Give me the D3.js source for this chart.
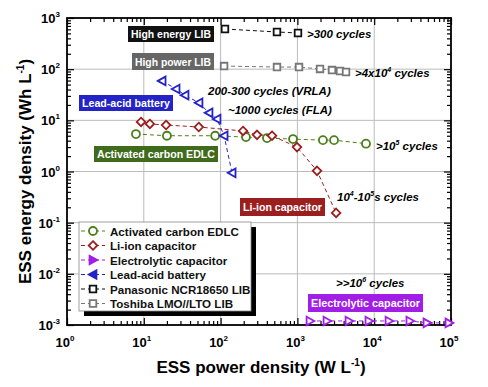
<!DOCTYPE html>
<html>
<head>
<meta charset="utf-8">
<script src="https://cdn.jsdelivr.net/npm/d3@7"></script>
<style>
  body { margin: 0; background: #fff; }
  text { font-family: "Liberation Sans", Arial, sans-serif; font-weight: bold; }
</style>
</head>
<body>
<div id="chart"></div>
<script>
// data (power W/L, energy Wh/L)
var edlcPower = [7.9, 20, 85, 214, 402, 877, 2150, 3000, 7820];
var edlcEnergy = [5.4, 5.0, 5.0, 4.7, 4.5, 4.3, 4.1, 4.1, 3.5];
var licPower = [9.2, 12, 19.5, 52, 196, 298, 467, 988, 1800, 3190];
var licEnergy = [9.3, 8.5, 8.1, 7.4, 6.2, 5.2, 5.0, 3.0, 1.03, 0.155];
var elcPower = [1460, 2430, 4700, 8550, 15600, 29200, 48700, 94200];
var elcEnergy = [0.0012, 0.0012, 0.0012, 0.0012, 0.0012, 0.0012, 0.0011, 0.0011];
var leadPower = [17.3, 26.3, 34.4, 52.3, 70.6, 89.8, 111, 141];
var leadEnergy = [59, 41, 31, 22, 14, 10.6, 5.0, 0.94];
var panaPower = [114, 542, 1018];
var panaEnergy = [610, 533, 509];
var toshPower = [111, 542, 1050, 1970, 2820, 3590, 4300];
var toshEnergy = [115, 110, 110, 101, 96, 92, 88];

var seriesNames = ["Activated carbon EDLC", "Li-ion capacitor", "Electrolytic capacitor",
  "Lead-acid battery", "Panasonic NCR18650 LIB", "Toshiba LMO//LTO LIB"];
var xTickExp = [0, 1, 2, 3, 4, 5];
var yTickExp = [-3, -2, -1, 0, 1, 2, 3];

var svgWidth = 488, svgHeight = 387;
var margin = { top: 18, right: 37, bottom: 62, left: 67 };
var width = svgWidth - margin.left - margin.right;
var height = svgHeight - margin.top - margin.bottom;

var svg = d3.select("#chart").append("svg")
  .attr("width", svgWidth)
  .attr("height", svgHeight);

var chartGroup = svg.append("g")
  .attr("transform", `translate(${margin.left}, ${margin.top})`);

var xScale = d3.scaleLog().domain([1, 1e5]).range([0, width]);
var yScale = d3.scaleLog().domain([1e-3, 1e3]).range([height, 0]);

// grid lines
chartGroup.selectAll(".vgrid").data(xTickExp.slice(1, -1)).enter().append("line")
  .attr("x1", d => xScale(Math.pow(10, d))).attr("x2", d => xScale(Math.pow(10, d)))
  .attr("y1", 0).attr("y2", height)
  .attr("stroke", "#bbb").attr("stroke-width", 1);
chartGroup.selectAll(".hgrid").data(yTickExp.slice(1, -1)).enter().append("line")
  .attr("y1", d => yScale(Math.pow(10, d))).attr("y2", d => yScale(Math.pow(10, d)))
  .attr("x1", 0).attr("x2", width)
  .attr("stroke", "#bbb").attr("stroke-width", 1);

// ticks (inward, mirrored on top and right)
function minorValues(lo, hi) {
  var out = [];
  for (var e = lo; e < hi; e++) {
    for (var m = 2; m <= 9; m++) out.push(m * Math.pow(10, e));
  }
  return out;
}
var xMajor = xTickExp.map(e => Math.pow(10, e));
var yMajor = yTickExp.map(e => Math.pow(10, e));
var xMinor = minorValues(0, 5);
var yMinor = minorValues(-3, 3);

function addAxis(axisFn, scale, values, size, transform) {
  chartGroup.append("g")
    .attr("transform", transform)
    .call(axisFn(scale).tickValues(values).tickSize(size).tickFormat(""))
    .call(g => g.select(".domain").remove())
    .call(g => g.selectAll("line").attr("stroke", "#000").attr("stroke-width", 1.2));
}
addAxis(d3.axisBottom, xScale, xMajor, -7, `translate(0, ${height})`);
addAxis(d3.axisBottom, xScale, xMinor, -4, `translate(0, ${height})`);
addAxis(d3.axisTop, xScale, xMajor, -7, "translate(0, 0)");
addAxis(d3.axisTop, xScale, xMinor, -4, "translate(0, 0)");
addAxis(d3.axisLeft, yScale, yMajor, -7, "translate(0, 0)");
addAxis(d3.axisLeft, yScale, yMinor, -4, "translate(0, 0)");
addAxis(d3.axisRight, yScale, yMajor, -7, `translate(${width}, 0)`);
addAxis(d3.axisRight, yScale, yMinor, -4, `translate(${width}, 0)`);

chartGroup.append("rect")
  .attr("width", width).attr("height", height)
  .attr("fill", "none").attr("stroke", "#000").attr("stroke-width", 1.8);

// tick labels with superscripts
function powLabel(g, e) {
  g.append("tspan").text("10");
  g.append("tspan").attr("dy", -6).attr("font-size", 8).text(e);
}
xTickExp.forEach(function(e) {
  var t = chartGroup.append("text")
    .attr("x", xScale(Math.pow(10, e)) - 2)
    .attr("y", height + 22)
    .attr("text-anchor", "middle")
    .attr("font-size", 13);
  powLabel(t, e);
});
yTickExp.forEach(function(e) {
  var t = chartGroup.append("text")
    .attr("class", "ylab")
    .attr("y", yScale(Math.pow(10, e)) + 5)
    .attr("font-size", 13);
  powLabel(t, e);
  // right-align against the axis by measuring the whole label
  var w = t.node().getComputedTextLength();
  t.attr("x", -7 - w);
});

// axis titles
var xTitle = svg.append("text")
  .attr("x", margin.left + width / 2 + 2)
  .attr("y", 373)
  .attr("text-anchor", "middle")
  .attr("font-size", 17);
xTitle.append("tspan").text("ESS power density (W L");
xTitle.append("tspan").attr("dy", -7).attr("font-size", 10).text("-1");
xTitle.append("tspan").attr("dy", 7).text(")");

var yTitle = svg.append("text")
  .attr("transform", `translate(31, ${margin.top + height / 2}) rotate(-90)`)
  .attr("text-anchor", "middle")
  .attr("font-size", 17);
yTitle.append("tspan").text("ESS energy density (Wh L");
yTitle.append("tspan").attr("dy", -7).attr("font-size", 10).text("-1");
yTitle.append("tspan").attr("dy", 7).text(")");

// markers
function markerPath(shape, s) {
  if (shape === "square") return `M${-s},${-s}H${s}V${s}H${-s}Z`;
  if (shape === "diamond") { var d = s * 1.3; return `M0,${-d}L${d},0L0,${d}L${-d},0Z`; }
  if (shape === "left") { var a = s * 1.3; return `M${-a},0L${a * 0.8},${-a}L${a * 0.8},${a}Z`; }
  if (shape === "right") { var b = s * 1.3; return `M${b},0L${-b * 0.8},${-b}L${-b * 0.8},${b}Z`; }
  return "";
}

var series = [
  { name: seriesNames[0], power: edlcPower, energy: edlcEnergy, color: "#4d7f1a", shape: "circle" },
  { name: seriesNames[1], power: licPower, energy: licEnergy, color: "#9b1f1f", shape: "diamond" },
  { name: seriesNames[2], power: elcPower, energy: elcEnergy, color: "#a21ee6", shape: "right" },
  { name: seriesNames[3], power: leadPower, energy: leadEnergy, color: "#2323c8", shape: "left" },
  { name: seriesNames[4], power: panaPower, energy: panaEnergy, color: "#111", shape: "square" },
  { name: seriesNames[5], power: toshPower, energy: toshEnergy, color: "#777", shape: "square" }
];

function drawMarker(g, shape, color, x, y, fill) {
  if (shape === "circle") {
    g.append("circle").attr("cx", x).attr("cy", y).attr("r", 4)
      .attr("fill", fill || "#fff").attr("stroke", color).attr("stroke-width", 1.8);
  } else {
    g.append("path").attr("d", markerPath(shape, 3.3))
      .attr("transform", `translate(${x},${y})`)
      .attr("fill", fill || "#fff").attr("stroke", color).attr("stroke-width", 1.8);
  }
}

var line = d3.line().x(d => xScale(d[0])).y(d => yScale(d[1]));

series.forEach(function(s) {
  var pts = s.power.map((p, i) => [p, s.energy[i]]);
  var g = chartGroup.append("g");
  g.append("path").attr("d", line(pts))
    .attr("fill", "none").attr("stroke", s.color)
    .attr("stroke-width", 1).attr("stroke-dasharray", "4,3");
  pts.forEach(p => drawMarker(g, s.shape, s.color, xScale(p[0]), yScale(p[1])));
});

// coloured name tags
var tags = [
  { text: "High energy LIB", x: 128, y: 26, w: 86, h: 16, bg: "#111" },
  { text: "High power LIB", x: 132, y: 53, w: 82, h: 17, bg: "#666" },
  { text: "Lead-acid battery", x: 79, y: 95, w: 94, h: 16, bg: "#2323c8" },
  { text: "Activated carbon EDLC", x: 94, y: 146, w: 124, h: 16, bg: "#3f6b1c" },
  { text: "Li-ion capacitor", x: 240, y: 198, w: 85, h: 18, bg: "#9b1f1f" },
  { text: "Electrolytic capacitor", x: 308, y: 294, w: 115, h: 18, bg: "#a21ee6" }
];
tags.forEach(function(t) {
  svg.append("rect").attr("x", t.x).attr("y", t.y).attr("width", t.w).attr("height", t.h)
    .attr("fill", t.bg);
  svg.append("text").attr("x", t.x + t.w / 2).attr("y", t.y + t.h / 2 + 4)
    .attr("text-anchor", "middle").attr("fill", "#fff").attr("font-size", 11.5)
    .attr("textLength", t.w - 6).attr("lengthAdjust", "spacingAndGlyphs")
    .text(t.text);
});

// cycle-life notes
function note(x, y, parts) {
  var t = svg.append("text").attr("x", x).attr("y", y)
    .attr("font-size", 11.5).attr("font-style", "italic");
  parts.forEach(function(p) {
    if (p.sup) t.append("tspan").attr("dy", -5).attr("font-size", 7).text(p.sup);
    else t.append("tspan").attr("dy", p.down ? 5 : 0).text(p.t);
  });
}
note(307, 38, [{ t: ">300 cycles" }]);
note(355, 77, [{ t: ">4x10" }, { sup: "4" }, { t: " cycles", down: true }]);
note(208, 95, [{ t: "200-300 cycles (VRLA)" }]);
note(228, 114, [{ t: "~1000 cycles (FLA)" }]);
note(376, 150, [{ t: ">10" }, { sup: "5" }, { t: " cycles", down: true }]);
note(337, 201, [{ t: "10" }, { sup: "4" }, { t: "-10", down: true }, { sup: "5" }, { t: "s cycles", down: true }]);
note(336, 287, [{ t: ">>10" }, { sup: "6" }, { t: " cycles", down: true }]);

// legend
var lx = 79, ly = 222, lw = 172, lh = 89;
svg.append("rect").attr("x", lx + 5).attr("y", ly + 5).attr("width", lw).attr("height", lh).attr("fill", "#000");
svg.append("rect").attr("x", lx).attr("y", ly).attr("width", lw).attr("height", lh)
  .attr("fill", "#fff").attr("stroke", "#888").attr("stroke-width", 0.8);
series.forEach(function(s, i) {
  var y = ly + 9 + i * 14.5;
  var g = svg.append("g");
  g.append("line").attr("x1", lx + 2).attr("x2", lx + 26).attr("y1", y).attr("y2", y)
    .attr("stroke", s.color).attr("stroke-width", 1).attr("stroke-dasharray", "4,3");
  var filled = (s.shape === "left" || s.shape === "right") ? s.color : null;
  drawMarker(g, s.shape, s.color, lx + 14, y, filled);
  g.append("text").attr("x", lx + 31).attr("y", y + 4.5)
    .attr("font-size", 11.6).attr("fill", "#111").text(s.name);
});
</script>
</body>
</html>
